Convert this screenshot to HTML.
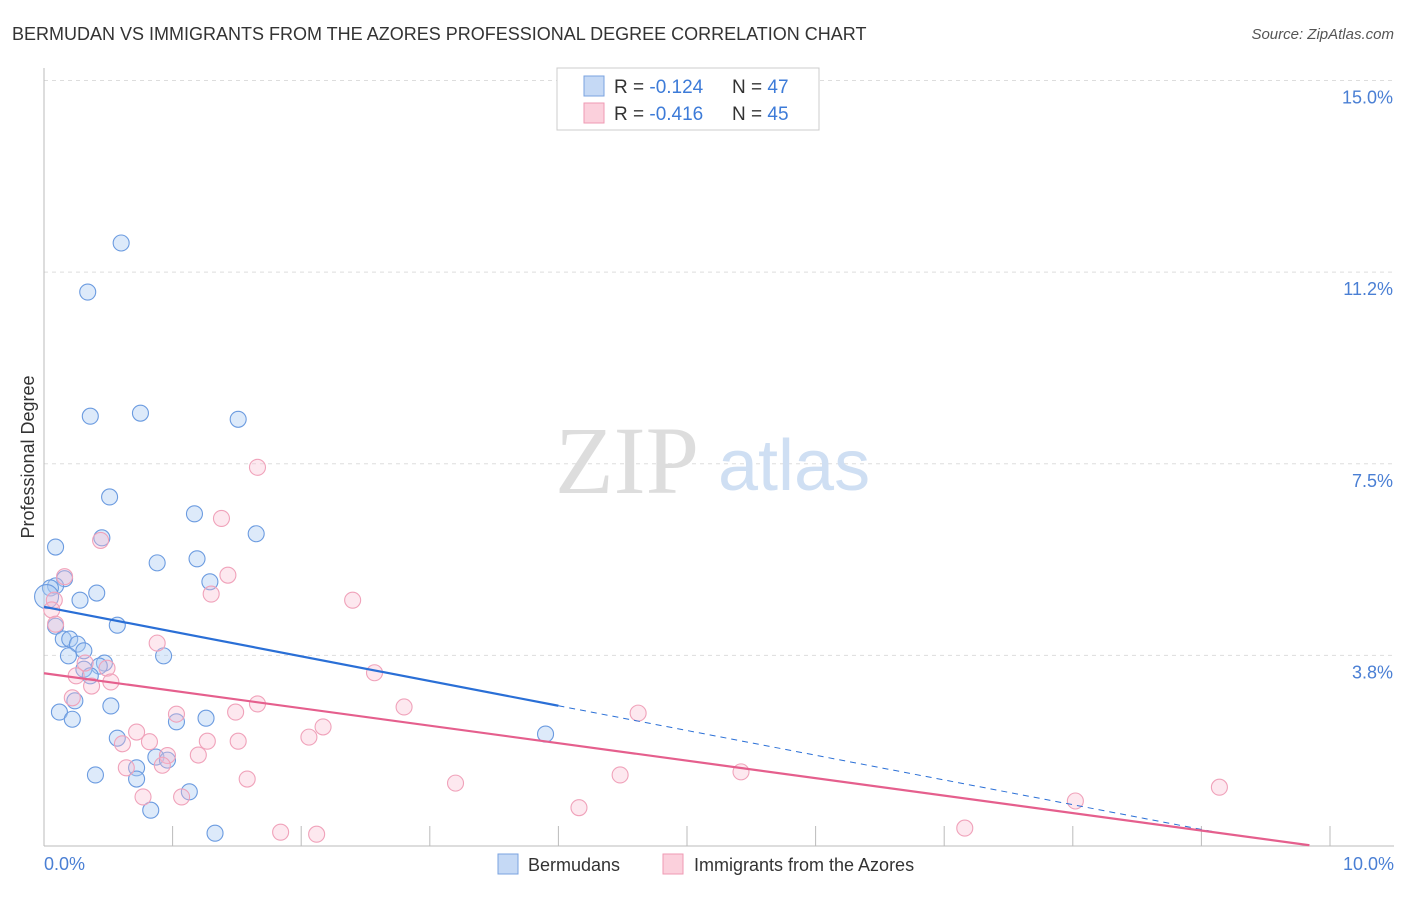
<!DOCTYPE html>
<html><head><meta charset="utf-8"><style>
body{margin:0;background:#fff;font-family:"Liberation Sans",sans-serif;}
</style></head><body>
<svg id="c" width="1406" height="892" xmlns="http://www.w3.org/2000/svg" style="font-family:'Liberation Sans',sans-serif">
<text x="12" y="40" font-size="18" fill="#333">BERMUDAN VS IMMIGRANTS FROM THE AZORES PROFESSIONAL DEGREE CORRELATION CHART</text>
<text x="1394" y="39" font-size="15" fill="#555" text-anchor="end" font-style="italic">Source: ZipAtlas.com</text>
<text x="34" y="457" font-size="18" fill="#333" transform="rotate(-90 34 457)" text-anchor="middle">Professional Degree</text>
<g id="grid"></g>
<line x1="44" y1="68" x2="44" y2="846" stroke="#bbb"/>
<line x1="44" y1="846" x2="1394" y2="846" stroke="#bbb"/>
<text x="555" y="493" font-size="96" fill="#ddd" font-family="Liberation Serif">ZIP</text>
<text x="718" y="490" font-size="72" fill="#cfdff3">atlas</text>
<g id="pts"></g>
<g id="lines"></g>
<text x="44" y="870" font-size="18" fill="#4a7fd4">0.0%</text>
<text x="1394" y="870" font-size="18" fill="#4a7fd4" text-anchor="end">10.0%</text>
<g>
<rect x="557" y="68" width="262" height="62" fill="#fff" stroke="#ccc"/>
<rect x="584" y="76" width="20" height="20" fill="#c5d9f5" stroke="#7aa3e0"/>
<rect x="584" y="103" width="20" height="20" fill="#fbd0dc" stroke="#ef9ab3"/>
<text x="614" y="93" font-size="19" fill="#333">R = <tspan fill="#3d7bd8">-0.124</tspan><tspan x="732">N = </tspan><tspan fill="#3d7bd8">47</tspan></text>
<text x="614" y="120" font-size="19" fill="#333">R = <tspan fill="#3d7bd8">-0.416</tspan><tspan x="732">N = </tspan><tspan fill="#3d7bd8">45</tspan></text>
</g>
<g>
<rect x="498" y="854" width="20" height="20" fill="#c5d9f5" stroke="#7aa3e0"/>
<text x="528" y="871" font-size="18" fill="#333">Bermudans</text>
<rect x="663" y="854" width="20" height="20" fill="#fbd0dc" stroke="#ef9ab3"/>
<text x="694" y="871" font-size="18" fill="#333">Immigrants from the Azores</text>
</g>
</svg>
<script>
const yTicks=[15.0,11.25,7.5,3.75];
const yTickLabels=["15.0%","11.2%","7.5%","3.8%"];
const xTicks=[1,2,3,4,5,6,7,8,9,10];
const blueX=[0.60,0.34,0.36,0.75,1.51,0.51,1.17,1.65,0.45,0.09,0.88,1.19,1.29,0.16,0.09,0.05,0.41,0.28,0.57,0.09,0.15,0.20,0.26,0.31,0.19,0.93,0.47,0.43,0.31,0.36,0.24,0.52,0.12,0.22,1.26,1.03,0.57,3.90,0.87,0.96,0.72,0.40,0.72,1.13,0.83,1.33,0.02];
const blueY=[11.82,10.86,8.43,8.49,8.37,6.85,6.52,6.13,6.05,5.87,5.56,5.64,5.19,5.25,5.11,5.07,4.97,4.83,4.34,4.32,4.07,4.07,3.97,3.84,3.74,3.74,3.60,3.54,3.48,3.35,2.86,2.76,2.64,2.50,2.52,2.45,2.13,2.21,1.76,1.70,1.55,1.41,1.33,1.08,0.72,0.27,4.90];
const pinkX=[1.66,1.38,0.44,1.43,1.30,0.16,2.40,0.08,0.06,0.09,0.88,2.57,0.49,0.32,0.52,0.25,0.37,0.22,2.80,1.66,1.49,4.62,1.03,0.72,2.17,0.61,0.82,1.27,1.51,2.06,0.96,1.20,0.92,0.64,1.58,3.20,4.48,5.42,0.77,1.07,4.16,8.02,9.14,1.84,2.12,7.16];
const pinkY=[7.43,6.43,6.00,5.32,4.95,5.29,4.83,4.83,4.64,4.36,3.99,3.41,3.50,3.60,3.23,3.35,3.15,2.92,2.74,2.80,2.64,2.62,2.60,2.25,2.35,2.02,2.06,2.07,2.07,2.15,1.79,1.80,1.60,1.55,1.33,1.25,1.41,1.47,0.98,0.98,0.77,0.90,1.17,0.29,0.25,0.37];
const blueTrend=[4.70,-0.484];
const pinkTrend=[3.40,-0.342];
const NS="http://www.w3.org/2000/svg";
const X=v=>44+128.6*v, Y=v=>847-51.1*v;
function mk(t,a,p){const e=document.createElementNS(NS,t);for(const k in a)e.setAttribute(k,a[k]);p.appendChild(e);return e;}
const grid=document.getElementById('grid');
yTicks.forEach((t,i)=>{
 const l=mk('line',{x1:44,x2:1394,y1:Y(t),y2:Y(t),stroke:'#ddd','stroke-dasharray':'4,4'},grid);
 
 
 const tx=mk('text',{x:1393,y:Y(t)+23,'font-size':18,fill:'#4a7fd4','text-anchor':'end'},grid);
 tx.textContent=yTickLabels[i];
 
 
});
xTicks.forEach(t=>{
 const l=mk('line',{x1:X(t),x2:X(t),y1:826,y2:846,stroke:'#bbb'},grid);
 
 
});
const pts=document.getElementById('pts');
blueX.forEach((x,i)=>{
 const c=mk('circle',{cx:X(x),cy:Y(blueY[i]),r:i==46?12:8,fill:'rgba(170,202,242,0.4)',stroke:'#6b9be0','stroke-width':1.1},pts);
 
 
});
pinkX.forEach((x,i)=>{
 const c=mk('circle',{cx:X(x),cy:Y(pinkY[i]),r:8,fill:'rgba(248,190,208,0.35)',stroke:'#f0a2ba','stroke-width':1.1},pts);
 
 
});
const lines=document.getElementById('lines');
const bl=mk('line',{x1:X(0),y1:Y(blueTrend[0]),x2:X(4),y2:Y(blueTrend[0]+4*blueTrend[1]),stroke:'#2a6fd6','stroke-width':2.2},lines);


const bd=mk('line',{x1:X(4),y1:Y(blueTrend[0]+4*blueTrend[1]),x2:X(9.2),y2:Y(blueTrend[0]+9.2*blueTrend[1]),stroke:'#2a6fd6','stroke-width':1,'stroke-dasharray':'6,5'},lines);


const pl=mk('line',{x1:X(0),y1:Y(pinkTrend[0]),x2:X(9.84),y2:Y(pinkTrend[0]+9.84*pinkTrend[1]),stroke:'#e55f8d','stroke-width':2.2},lines);


</script>
</body></html>
